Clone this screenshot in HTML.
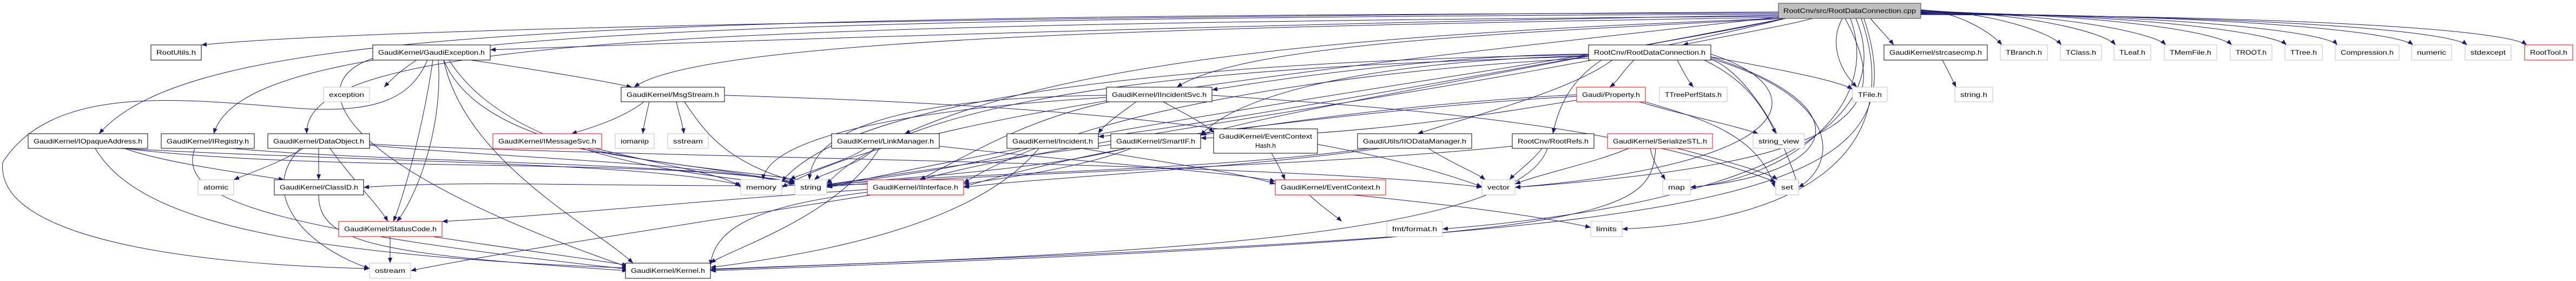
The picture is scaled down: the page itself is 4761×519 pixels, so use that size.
<!DOCTYPE html>
<html><head><meta charset="utf-8"><style>
html,body{margin:0;padding:0;background:#fff;}
svg{display:block}
text{font-family:"Liberation Sans",sans-serif;font-size:12px;fill:#000}
</style></head><body>
<svg id="g" width="4761" height="519" viewBox="0 0 4761 519" xmlns="http://www.w3.org/2000/svg">
<defs><marker id="a" markerUnits="userSpaceOnUse" markerWidth="11" markerHeight="8" refX="10" refY="4" orient="auto"><path d="M0,0 L10,4 L0,8 z" fill="#191970"/></marker></defs>
<g id="edges" fill="none" stroke="#191970" stroke-width="1"></g>
<g id="nodes" stroke-width="1">
<rect x="3287" y="6" width="263" height="28" fill="#bfbfbf" stroke="#404040"/><text x="3296" y="24" textLength="245" lengthAdjust="spacingAndGlyphs">RootCnv/src/RootDataConnection.cpp</text>

<rect x="279" y="83" width="93" height="28" fill="#fff" stroke="#000"/><text x="289" y="101" textLength="73" lengthAdjust="spacingAndGlyphs">RootUtils.h</text>
<rect x="689" y="83" width="217" height="28" fill="#fff" stroke="#000"/><text x="699" y="101" textLength="197" lengthAdjust="spacingAndGlyphs">GaudiKernel/GaudiException.h</text>
<rect x="2936" y="83" width="226" height="28" fill="#fff" stroke="#000"/><text x="2946" y="101" textLength="206" lengthAdjust="spacingAndGlyphs">RootCnv/RootDataConnection.h</text>
<rect x="3482" y="83" width="191" height="28" fill="#fff" stroke="#000"/><text x="3492" y="101" textLength="171" lengthAdjust="spacingAndGlyphs">GaudiKernel/strcasecmp.h</text>
<rect x="3697" y="83" width="87" height="28" fill="#fff" stroke="#bfbfbf"/><text x="3707" y="101" textLength="67" lengthAdjust="spacingAndGlyphs">TBranch.h</text>
<rect x="3808" y="83" width="76" height="28" fill="#fff" stroke="#bfbfbf"/><text x="3818" y="101" textLength="56" lengthAdjust="spacingAndGlyphs">TClass.h</text>
<rect x="3907" y="83" width="68" height="28" fill="#fff" stroke="#bfbfbf"/><text x="3917" y="101" textLength="48" lengthAdjust="spacingAndGlyphs">TLeaf.h</text>
<rect x="4000" y="83" width="97" height="28" fill="#fff" stroke="#bfbfbf"/><text x="4010" y="101" textLength="77" lengthAdjust="spacingAndGlyphs">TMemFile.h</text>
<rect x="4122" y="83" width="77" height="28" fill="#fff" stroke="#bfbfbf"/><text x="4132" y="101" textLength="57" lengthAdjust="spacingAndGlyphs">TROOT.h</text>
<rect x="4223" y="83" width="69" height="28" fill="#fff" stroke="#bfbfbf"/><text x="4233" y="101" textLength="49" lengthAdjust="spacingAndGlyphs">TTree.h</text>
<rect x="4316" y="83" width="118" height="28" fill="#fff" stroke="#bfbfbf"/><text x="4326" y="101" textLength="98" lengthAdjust="spacingAndGlyphs">Compression.h</text>
<rect x="4457" y="83" width="74" height="28" fill="#fff" stroke="#bfbfbf"/><text x="4467" y="101" textLength="54" lengthAdjust="spacingAndGlyphs">numeric</text>
<rect x="4556" y="83" width="85" height="28" fill="#fff" stroke="#bfbfbf"/><text x="4566" y="101" textLength="65" lengthAdjust="spacingAndGlyphs">stdexcept</text>
<rect x="4666" y="83" width="89" height="28" fill="#fff" stroke="#ff0000"/><text x="4676" y="101" textLength="69" lengthAdjust="spacingAndGlyphs">RootTool.h</text>

<rect x="598" y="161" width="85" height="27" fill="#fff" stroke="#bfbfbf"/><text x="608" y="179" textLength="65" lengthAdjust="spacingAndGlyphs">exception</text>
<rect x="1148" y="161" width="191" height="27" fill="#fff" stroke="#000"/><text x="1158" y="179" textLength="171" lengthAdjust="spacingAndGlyphs">GaudiKernel/MsgStream.h</text>
<rect x="2045" y="161" width="195" height="27" fill="#fff" stroke="#000"/><text x="2055" y="179" textLength="175" lengthAdjust="spacingAndGlyphs">GaudiKernel/IIncidentSvc.h</text>
<rect x="2914" y="161" width="127" height="27" fill="#fff" stroke="#ff0000"/><text x="2924" y="179" textLength="107" lengthAdjust="spacingAndGlyphs">Gaudi/Property.h</text>
<rect x="3067" y="161" width="125" height="27" fill="#fff" stroke="#bfbfbf"/><text x="3077" y="179" textLength="105" lengthAdjust="spacingAndGlyphs">TTreePerfStats.h</text>
<rect x="3424" y="161" width="64" height="27" fill="#fff" stroke="#bfbfbf"/><text x="3434" y="179" textLength="44" lengthAdjust="spacingAndGlyphs">TFile.h</text>
<rect x="3613" y="161" width="70" height="27" fill="#fff" stroke="#bfbfbf"/><text x="3623" y="179" textLength="50" lengthAdjust="spacingAndGlyphs">string.h</text>

<rect x="52" y="247" width="221" height="27" fill="#fff" stroke="#000"/><text x="62" y="265" textLength="201" lengthAdjust="spacingAndGlyphs">GaudiKernel/IOpaqueAddress.h</text>
<rect x="298" y="247" width="172" height="27" fill="#fff" stroke="#000"/><text x="308" y="265" textLength="152" lengthAdjust="spacingAndGlyphs">GaudiKernel/IRegistry.h</text>
<rect x="495" y="247" width="188" height="27" fill="#fff" stroke="#000"/><text x="505" y="265" textLength="168" lengthAdjust="spacingAndGlyphs">GaudiKernel/DataObject.h</text>
<rect x="911" y="247" width="201" height="27" fill="#fff" stroke="#ff0000"/><text x="921" y="265" textLength="181" lengthAdjust="spacingAndGlyphs">GaudiKernel/IMessageSvc.h</text>
<rect x="1137" y="247" width="72" height="27" fill="#fff" stroke="#bfbfbf"/><text x="1147" y="265" textLength="52" lengthAdjust="spacingAndGlyphs">iomanip</text>
<rect x="1234" y="247" width="75" height="27" fill="#fff" stroke="#bfbfbf"/><text x="1244" y="265" textLength="55" lengthAdjust="spacingAndGlyphs">sstream</text>
<rect x="1537" y="247" width="199" height="27" fill="#fff" stroke="#000"/><text x="1547" y="265" textLength="179" lengthAdjust="spacingAndGlyphs">GaudiKernel/LinkManager.h</text>
<rect x="1861" y="247" width="169" height="27" fill="#fff" stroke="#000"/><text x="1871" y="265" textLength="149" lengthAdjust="spacingAndGlyphs">GaudiKernel/Incident.h</text>
<rect x="2053" y="247" width="166" height="27" fill="#fff" stroke="#000"/><text x="2063" y="265" textLength="146" lengthAdjust="spacingAndGlyphs">GaudiKernel/SmartIF.h</text>
<rect x="2243" y="238" width="192" height="45" fill="#fff" stroke="#000"/><text x="2253" y="256" textLength="172" lengthAdjust="spacingAndGlyphs">GaudiKernel/EventContext</text><text x="2339" y="273" text-anchor="middle">Hash.h</text>
<rect x="2509" y="247" width="211" height="27" fill="#fff" stroke="#000"/><text x="2519" y="265" textLength="191" lengthAdjust="spacingAndGlyphs">GaudiUtils/IIODataManager.h</text>
<rect x="2795" y="247" width="151" height="27" fill="#fff" stroke="#000"/><text x="2805" y="265" textLength="131" lengthAdjust="spacingAndGlyphs">RootCnv/RootRefs.h</text>
<rect x="2971" y="247" width="194" height="27" fill="#fff" stroke="#ff0000"/><text x="2981" y="265" textLength="174" lengthAdjust="spacingAndGlyphs">GaudiKernel/SerializeSTL.h</text>
<rect x="3240" y="247" width="95" height="27" fill="#fff" stroke="#bfbfbf"/><text x="3250" y="265" textLength="75" lengthAdjust="spacingAndGlyphs">string_view</text>

<rect x="366" y="332" width="66" height="28" fill="#fff" stroke="#bfbfbf"/><text x="376" y="350" textLength="46" lengthAdjust="spacingAndGlyphs">atomic</text>
<rect x="507" y="332" width="165" height="28" fill="#fff" stroke="#000"/><text x="517" y="350" textLength="145" lengthAdjust="spacingAndGlyphs">GaudiKernel/ClassID.h</text>
<rect x="1369" y="332" width="76" height="28" fill="#fff" stroke="#bfbfbf"/><text x="1379" y="350" textLength="56" lengthAdjust="spacingAndGlyphs">memory</text>
<rect x="1469" y="332" width="59" height="28" fill="#fff" stroke="#bfbfbf"/><text x="1479" y="350" textLength="39" lengthAdjust="spacingAndGlyphs">string</text>
<rect x="1603" y="332" width="178" height="28" fill="#fff" stroke="#ff0000"/><text x="1613" y="350" textLength="158" lengthAdjust="spacingAndGlyphs">GaudiKernel/IInterface.h</text>
<rect x="2357" y="332" width="204" height="28" fill="#fff" stroke="#ff0000"/><text x="2367" y="350" textLength="184" lengthAdjust="spacingAndGlyphs">GaudiKernel/EventContext.h</text>
<rect x="2739" y="332" width="61" height="28" fill="#fff" stroke="#bfbfbf"/><text x="2749" y="350" textLength="41" lengthAdjust="spacingAndGlyphs">vector</text>
<rect x="3073" y="332" width="51" height="28" fill="#fff" stroke="#bfbfbf"/><text x="3083" y="350" textLength="31" lengthAdjust="spacingAndGlyphs">map</text>
<rect x="3282" y="332" width="42" height="28" fill="#fff" stroke="#bfbfbf"/><text x="3292" y="350" textLength="22" lengthAdjust="spacingAndGlyphs">set</text>

<rect x="626" y="409" width="191" height="28" fill="#fff" stroke="#ff0000"/><text x="636" y="427" textLength="171" lengthAdjust="spacingAndGlyphs">GaudiKernel/StatusCode.h</text>
<rect x="2563" y="409" width="103" height="28" fill="#fff" stroke="#bfbfbf"/><text x="2573" y="427" textLength="83" lengthAdjust="spacingAndGlyphs">fmt/format.h</text>
<rect x="2940" y="409" width="58" height="28" fill="#fff" stroke="#bfbfbf"/><text x="2950" y="427" textLength="38" lengthAdjust="spacingAndGlyphs">limits</text>

<rect x="683" y="486" width="76" height="28" fill="#fff" stroke="#bfbfbf"/><text x="693" y="504" textLength="56" lengthAdjust="spacingAndGlyphs">ostream</text>
<rect x="1156" y="486" width="157" height="28" fill="#fff" stroke="#000"/><text x="1166" y="504" textLength="137" lengthAdjust="spacingAndGlyphs">GaudiKernel/Kernel.h</text>
</g>
</svg>
<script>
var E=[
[3287,22,2000,30,700,50,372,83],
[3287,28,2500,40,1500,70,906,92],
[3287,24,1000,28,350,60,183,247],
[3287,26,1200,35,450,60,395,247],
[3287,30,1300,45,560,70,567,247],
[3287,32,2200,50,1300,70,1172,161],
[3287,34,2600,60,2000,100,1672,247],
[3300,34,2800,60,2300,80,2175,161],
[3350,34,3290,50,3170,70,3110,83],
[3405,34,3380,80,3400,130,3432,161],
[3457,34,3470,50,3490,70,3500,83],
[3550,18,3620,22,3680,60,3700,83],
[3550,19,3680,22,3790,60,3810,83],
[3550,20,3750,24,3890,60,3910,83],
[3550,21,3800,24,3980,60,4003,83],
[3550,22,3900,26,4100,60,4125,83],
[3550,23,3950,26,4200,60,4226,83],
[3550,24,4050,28,4300,60,4320,83],
[3550,25,4150,28,4430,60,4460,83],
[3550,26,4250,30,4530,60,4560,83],
[3550,27,4350,30,4640,60,4670,83],
[3410,34,3500,200,3450,300,2800,346],
[3420,34,3480,200,3300,330,3124,346],
[3440,34,3530,300,3300,410,2998,423],
[3430,34,3520,250,3200,380,2666,423],
[3445,34,3560,380,3200,430,1313,497],
[3300,34,2900,120,2200,200,1528,346],
[3300,30,2500,120,1700,200,1445,346],
[3300,34,2700,150,2100,250,2030,252],
[3300,34,2700,150,2300,220,2219,250],
[3300,34,2800,160,2000,250,1700,332],
[3020,111,3000,130,2990,150,2975,161],
[3100,111,3110,130,3120,150,3130,161],
[3162,105,3300,130,3400,150,3424,165],
[3150,111,3230,150,3260,200,3282,247],
[2980,111,2900,170,2700,220,2620,247],
[2960,111,2900,150,2880,200,2870,247],
[3162,100,3350,160,3350,300,2800,346],
[3162,105,3450,200,3400,320,3124,346],
[3162,108,3400,180,3400,300,3324,346],
[2936,100,2700,100,2400,140,2240,166],
[2936,103,2600,110,2300,160,2219,250],
[2936,107,2500,130,2000,200,1781,338],
[2936,104,2400,120,1700,150,1528,340],
[2936,101,2400,110,1600,150,1445,335],
[3162,110,3200,120,3280,200,3324,346],
[770,111,740,130,720,150,710,161],
[870,111,1000,130,1120,150,1168,161],
[800,111,780,250,740,380,727,409],
[810,111,820,250,760,380,733,409],
[820,111,860,300,1100,420,1170,486],
[790,111,760,180,700,210,550,200,350,185,100,150,5,300,-10,450,400,490,683,496],
[689,108,560,150,600,300,1160,493],
[820,111,900,300,1300,300,1528,340],
[830,111,950,300,1300,320,1445,342],
[1190,188,1150,220,1080,240,1056,247],
[1200,188,1195,210,1190,230,1188,247],
[1250,188,1255,210,1262,230,1264,247],
[1265,188,1300,240,1340,300,1470,335],
[1339,176,1800,190,2400,220,2739,345],
[230,274,300,300,450,320,525,332],
[176,274,250,400,500,470,1160,495],
[230,274,600,320,1200,290,1469,336],
[220,274,700,300,1200,300,1369,342],
[360,274,330,360,450,420,1160,497],
[430,274,700,300,1300,300,1469,338],
[560,274,520,300,460,320,432,332],
[589,274,589,300,589,320,589,332],
[610,274,650,330,700,380,717,409],
[555,274,480,350,550,450,683,496],
[683,268,900,290,1300,300,1469,340],
[683,266,1100,290,2400,300,2739,346],
[1070,274,1200,300,1400,320,1469,340],
[1100,274,1250,310,1350,325,1369,346],
[589,360,589,450,700,470,1160,500],
[721,437,721,460,721,475,721,486],
[800,437,950,460,1100,480,1160,490],
[1603,355,1400,380,1320,420,1313,490],
[1610,360,1300,410,900,470,759,500],
[1603,340,1200,350,900,330,672,346],
[1603,350,1300,370,1000,400,817,409],
[1600,274,1560,300,1480,320,1460,332],
[1615,274,1600,300,1520,320,1505,332],
[1625,274,1550,400,1350,460,1313,486],
[1736,270,2000,300,2300,320,2357,335],
[2100,188,2070,210,2040,230,2030,247],
[2150,188,2190,210,2230,230,2243,245],
[2045,176,1700,180,1500,230,1496,332],
[2045,180,1700,200,1420,250,1410,332],
[2050,188,1900,220,1800,280,1700,332],
[2240,176,2600,200,3000,230,3282,336],
[1900,274,1750,320,1600,330,1528,342],
[2000,274,2150,300,2300,320,2357,340],
[1920,274,1800,420,1500,470,1313,494],
[2090,274,2000,310,1850,330,1781,340],
[2080,274,1900,320,1600,330,1528,344],
[2350,283,2360,300,2370,320,2375,332],
[2420,360,2440,380,2470,400,2480,409],
[2500,360,2700,380,2850,400,2940,420],
[2550,274,2300,310,1900,330,1781,346],
[2640,274,2680,300,2730,320,2745,332],
[2530,274,2200,320,1700,320,1528,343],
[2850,274,2830,300,2800,320,2790,332],
[2795,270,2400,310,1800,320,1528,345],
[2860,274,2800,450,2000,470,1313,498],
[3010,274,2950,300,2850,320,2800,340],
[3050,274,3055,300,3070,320,3078,332],
[3100,274,3200,300,3270,320,3285,332],
[3060,274,3050,400,3000,440,1313,500],
[3030,188,3100,210,3200,230,3250,247],
[3040,188,3150,220,3250,250,3280,346],
[2914,175,2600,190,2100,250,1781,345],
[2914,178,2500,200,1800,300,1528,341],
[2914,185,2700,220,2500,250,2219,255],
[3590,111,3600,130,3610,150,3615,161]
];
var g=document.getElementById('edges'),ns='http://www.w3.org/2000/svg';
E.forEach(function(e){var d='M'+e[0]+','+e[1];
for(var i=2;i+5<e.length;i+=6){d+=' C'+e[i]+','+e[i+1]+' '+e[i+2]+','+e[i+3]+' '+e[i+4]+','+e[i+5];}
var p=document.createElementNS(ns,'path');
p.setAttribute('d',d);
p.setAttribute('marker-end','url(#a)');g.appendChild(p);});
</script>
</body></html>
